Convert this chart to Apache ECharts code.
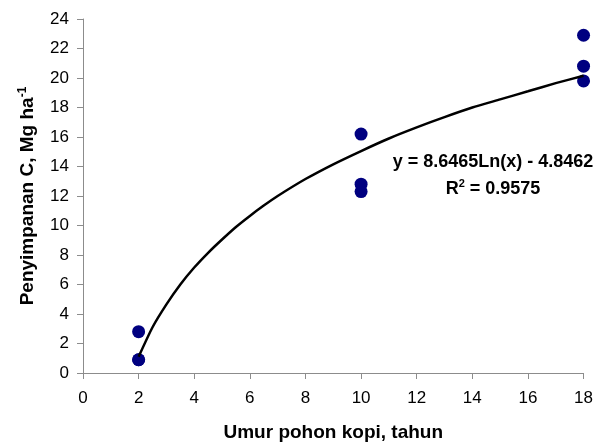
<!DOCTYPE html>
<html>
<head>
<meta charset="utf-8">
<script src="https://cdn.jsdelivr.net/npm/echarts@6/dist/echarts.min.js"></script>
<style>html,body{margin:0;padding:0;background:#fff;}#c{width:596px;height:447px;}</style>
</head>
<body>
<div id="c"></div>
<script>
// Observed data: tree age (years) and carbon stock (Mg/ha)
var ageX = [2, 2, 2, 10, 10, 10, 18, 18, 18];
var carbonY = [2.8, 0.9, 0.9, 16.2, 12.8, 12.3, 22.9, 20.8, 19.8];
// Trendline points
var trendX = [2, 2.5, 3, 3.5, 4, 4.5, 5, 5.5, 6, 6.5, 7, 8, 9, 10, 11, 12, 13, 14, 15, 16, 17, 18];
var trendY = [1.1, 3.1, 4.65, 6.0, 7.15, 8.15, 9.05, 9.9, 10.65, 11.35, 12.0, 13.15, 14.15, 15.05, 15.9, 16.65, 17.35, 18.0, 18.55, 19.1, 19.65, 20.15];
var eqText = 'y = 8.6465Ln(x) - 4.8462';
var r2Text = '0.9575';
var xTitle = 'Umur pohon kopi, tahun';
var yTitle = 'Penyimpanan C, Mg ha';

var chart = echarts.init(document.getElementById('c'), null, {renderer: 'canvas'});
var axisColor = '#8c8c8c';
var font = 'Liberation Sans, Arial, sans-serif';
chart.setOption({
  animation: false,
  grid: {left: 83, right: 10, top: 19, bottom: 72},
  xAxis: {
    type: 'value', min: 0, max: 18, interval: 2,
    axisLine: {show: true, lineStyle: {color: axisColor, width: 1}},
    axisTick: {show: true, length: 6, lineStyle: {color: axisColor}},
    splitLine: {show: false},
    axisLabel: {color: '#000', fontSize: 17, fontFamily: font, margin: 17},
    name: xTitle, nameLocation: 'middle', nameGap: 50,
    nameTextStyle: {color: '#000', fontSize: 19, fontWeight: 'bold', fontFamily: font}
  },
  yAxis: {
    type: 'value', min: 0, max: 24, interval: 2,
    axisLine: {show: true, lineStyle: {color: axisColor, width: 1}},
    axisTick: {show: true, length: 6, lineStyle: {color: axisColor}},
    splitLine: {show: false},
    axisLabel: {color: '#000', fontSize: 17, fontFamily: font, margin: 14},
    name: '{t|' + yTitle + '}{s|-1}', nameLocation: 'middle', nameGap: 44, nameRotate: 90,
    nameTextStyle: {
      color: '#000', fontFamily: font,
      rich: {
        t: {fontSize: 19, fontWeight: 'bold', fontFamily: font, color: '#000'},
        s: {fontSize: 12, fontWeight: 'bold', fontFamily: font, color: '#000', verticalAlign: 'top', padding: [0, 0, 10, 0]}
      }
    }
  },
  series: [
    {
      type: 'scatter',
      data: ageX.map(function (x, i) { return [x, carbonY[i]]; }),
      symbol: 'circle', symbolSize: 13,
      itemStyle: {color: '#000080', opacity: 1},
      z: 2
    },
    {
      type: 'line',
      data: trendX.map(function (x, i) { return [x, trendY[i]]; }),
      smooth: 0.2, showSymbol: false, symbol: 'none',
      lineStyle: {color: '#000', width: 2.5},
      z: 3
    }
  ],
  graphic: [
    {
      type: 'text', x: 493, y: 162,
      style: {text: eqText, fill: '#000', font: 'bold 18px ' + font, textAlign: 'center', textVerticalAlign: 'middle'}
    },
    {
      type: 'text', x: 493, y: 189,
      style: {
        text: '{a|R}{s|2}{a| = ' + r2Text + '}', textAlign: 'center', textVerticalAlign: 'middle',
        rich: {
          a: {fontSize: 18, fontWeight: 'bold', fontFamily: font, fill: '#000', color: '#000'},
          s: {fontSize: 11, fontWeight: 'bold', fontFamily: font, fill: '#000', color: '#000', verticalAlign: 'top', padding: [0, 0, 11, 0]}
        }
      }
    }
  ]
});
</script>
</body>
</html>
